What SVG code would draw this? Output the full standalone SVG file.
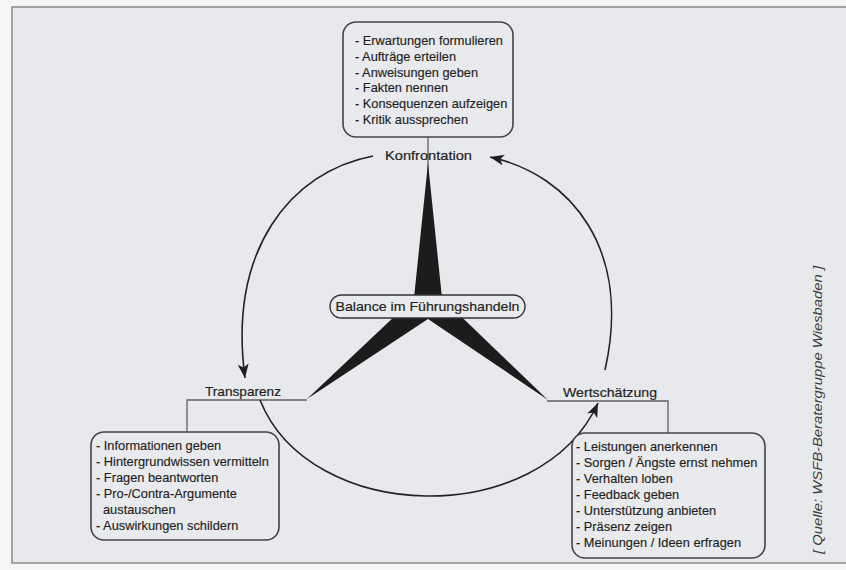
<svg xmlns="http://www.w3.org/2000/svg" width="846" height="570" viewBox="0 0 846 570">
<defs>
<style>
.t{font-family:"Liberation Sans",Arial,sans-serif;font-size:12.8px;fill:#1e1e1e;stroke:#1e1e1e;stroke-width:0.15}
.lbl{font-family:"Liberation Sans",Arial,sans-serif;font-size:13.5px;fill:#1e1e1e;stroke:#1e1e1e;stroke-width:0.2}
.box{fill:#e9eaed;stroke:#444;stroke-width:1.6}
.lead{fill:none;stroke:#606060;stroke-width:1.3}
.arc{fill:none;stroke:#222;stroke-width:1.6}
</style>
<marker id="ah" markerUnits="userSpaceOnUse" markerWidth="16" markerHeight="12" refX="14" refY="5.5" orient="auto">
<path d="M0,0 L14,5.5 L0,11 L3.5,5.5 Z" fill="#1e1e1e"/>
</marker>
</defs>
<rect x="0" y="0" width="846" height="570" fill="#f5f5f6"/>
<rect x="12" y="7" width="840" height="556" fill="#e8e9ec" stroke="#8f8f92" stroke-width="1.6"/>

<g id="star">
<line class="lead" x1="428" y1="137" x2="428" y2="175"/>
<polygon points="428,163 442,298 548,400 428,319 307,399 414,298" fill="#1c1c1c"/>
</g>

<g id="connectors">
<polyline class="lead" points="307,400 187,400 187,432"/>
<polyline class="lead" points="547,401 668,401 668,433"/>
<path class="arc" d="M373,156 C290,172 228,250 245,378" marker-end="url(#ah)"/>
<path class="arc" d="M260,400 C310,525 540,530 598,403" marker-end="url(#ah)"/>
<path class="arc" d="M605,370 C632,250 572,175 490,157" marker-end="url(#ah)"/>
</g>

<g id="balance">
<rect x="330" y="295" width="195" height="23" rx="11.5" fill="#e9eaed" stroke="#333" stroke-width="1.4"/>
<text class="lbl" x="427.5" y="311" text-anchor="middle" textLength="184" lengthAdjust="spacingAndGlyphs">Balance im Führungshandeln</text>
</g>

<g id="konfrontation">
<rect class="box" x="343" y="22" width="170" height="115" rx="13"/>
<text class="t" x="355" y="45">- Erwartungen formulieren</text>
<text class="t" x="355" y="61">- Aufträge erteilen</text>
<text class="t" x="355" y="77">- Anweisungen geben</text>
<text class="t" x="355" y="92">- Fakten nennen</text>
<text class="t" x="355" y="108">- Konsequenzen aufzeigen</text>
<text class="t" x="355" y="124">- Kritik aussprechen</text>
<text class="lbl" x="428.5" y="160" text-anchor="middle" textLength="87" lengthAdjust="spacingAndGlyphs">Konfrontation</text>
</g>

<g id="transparenz">
<text class="lbl" x="243" y="396" text-anchor="middle" textLength="76" lengthAdjust="spacingAndGlyphs">Transparenz</text>
<rect class="box" x="91" y="432" width="188" height="108" rx="13"/>
<text class="t" x="96" y="450">- Informationen geben</text>
<text class="t" x="96" y="466">- Hintergrundwissen vermitteln</text>
<text class="t" x="96" y="482">- Fragen beantworten</text>
<text class="t" x="96" y="498">- Pro-/Contra-Argumente</text>
<text class="t" x="103" y="514">austauschen</text>
<text class="t" x="96" y="530">- Auswirkungen schildern</text>
</g>

<g id="wertschaetzung">
<text class="lbl" x="610" y="397" text-anchor="middle" textLength="94" lengthAdjust="spacingAndGlyphs">Wertschätzung</text>
<rect class="box" x="572" y="433" width="193" height="125" rx="13"/>
<text class="t" x="576" y="451">- Leistungen anerkennen</text>
<text class="t" x="576" y="467">- Sorgen / Ängste ernst nehmen</text>
<text class="t" x="576" y="483">- Verhalten loben</text>
<text class="t" x="576" y="499">- Feedback geben</text>
<text class="t" x="576" y="515">- Unterstützung anbieten</text>
<text class="t" x="576" y="531">- Präsenz zeigen</text>
<text class="t" x="576" y="547">- Meinungen / Ideen erfragen</text>
</g>

<g id="quelle">
<text x="0" y="0" transform="translate(822,410) rotate(-90)" text-anchor="middle" font-family="'Liberation Sans',Arial,sans-serif" font-style="italic" font-size="13" fill="#3c3c3c" textLength="288" lengthAdjust="spacingAndGlyphs">[ Quelle: WSFB-Beratergruppe Wiesbaden ]</text>
</g>
</svg>
